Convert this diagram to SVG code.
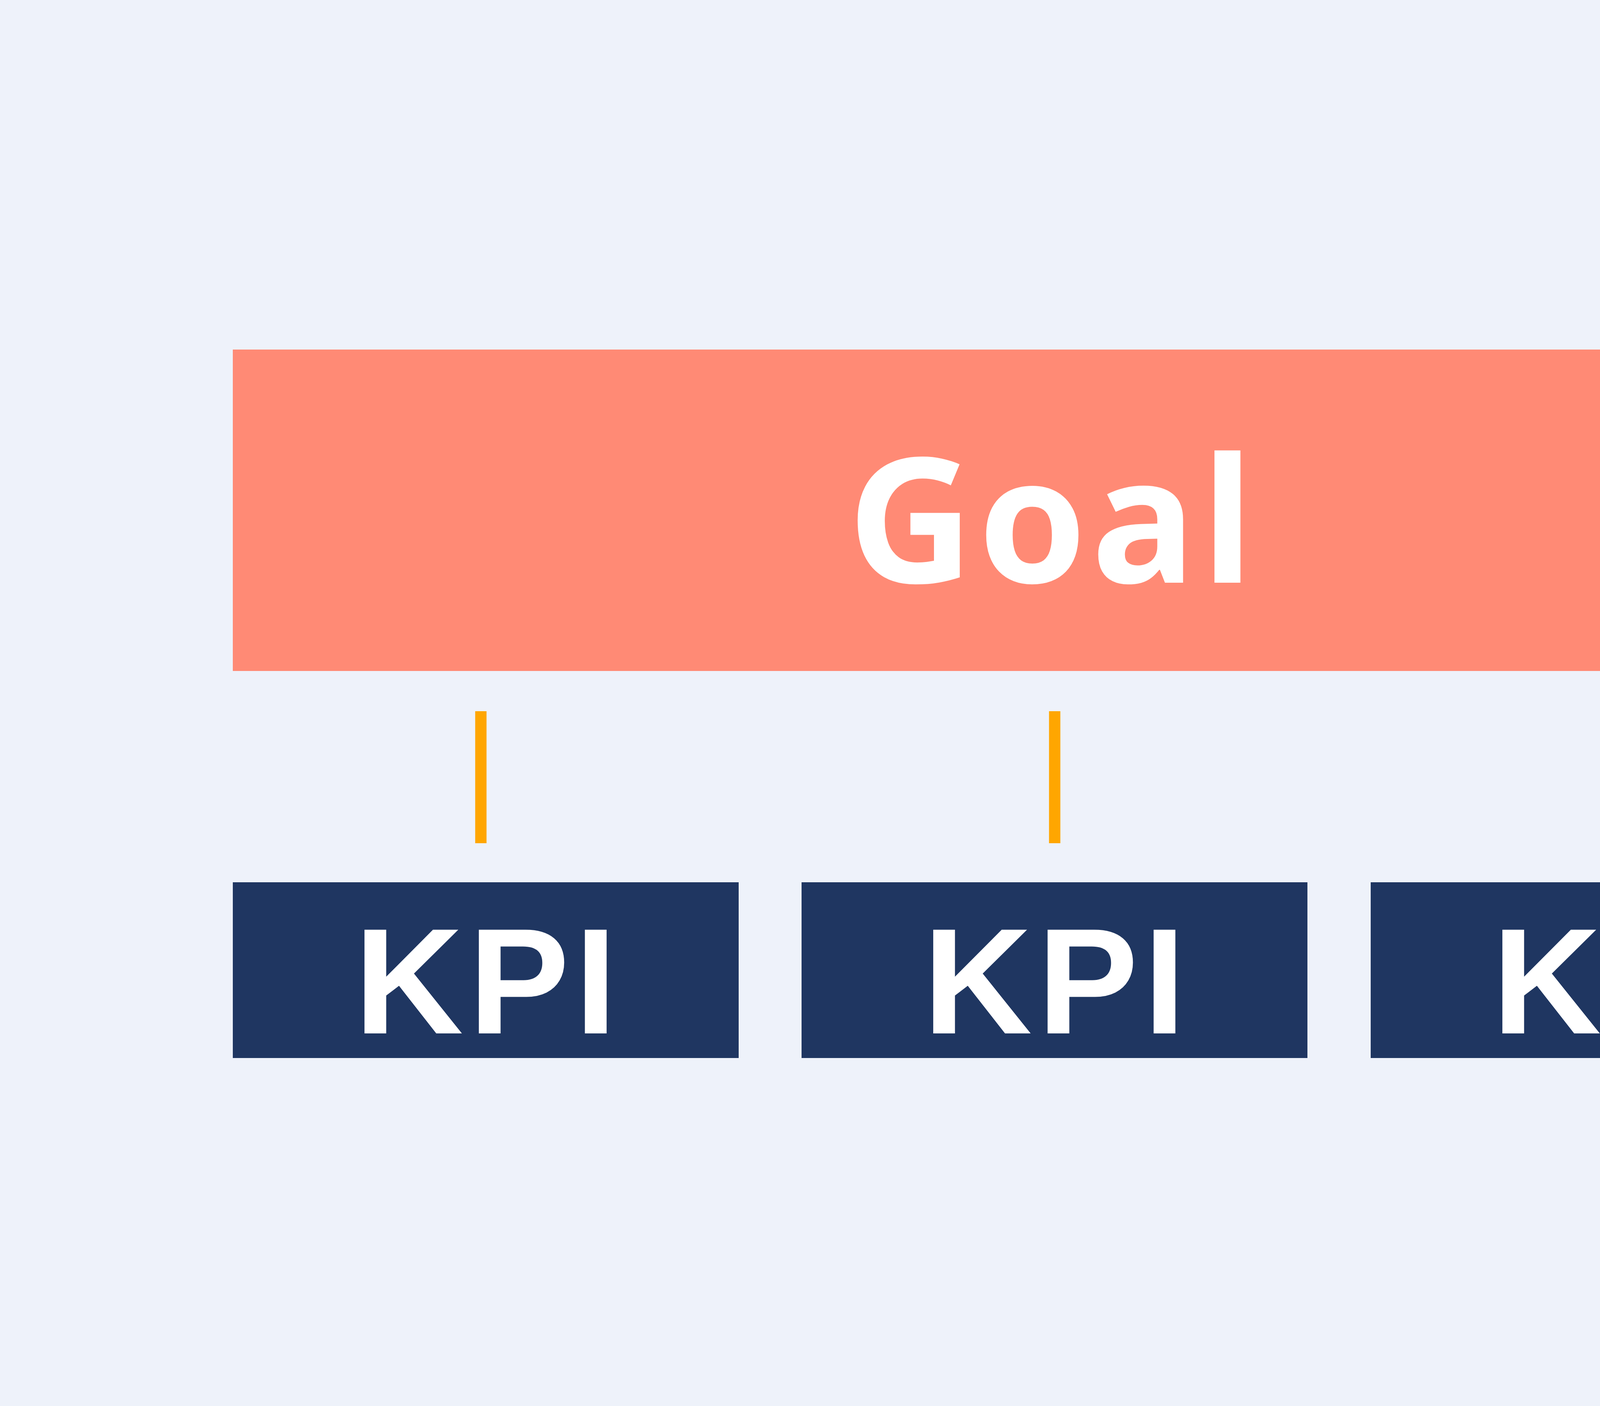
<svg xmlns="http://www.w3.org/2000/svg" width="5400" height="3600" viewBox="0 0 5400 3600">
  <style>
    .goal { fill: #FF8A75; }
    .kpi { fill: #1F3661; }
    .conn { stroke: #FFA600; stroke-width: 29; fill: none; }
    .goal-text { font-family: "Open Sans", "Liberation Sans", sans-serif; font-weight: 700; font-size: 446px; letter-spacing: 12px; fill: #FFFFFF; text-anchor: middle; }
    .kpi-text { font-family: "Liberation Sans", Arial, sans-serif; font-weight: 700; font-size: 386px; letter-spacing: 14px; fill: #FFFFFF; text-anchor: middle; }
  </style>
  <rect x="0" y="0" width="5400" height="3600" fill="#EEF2FA"/>
  <g id="goal">
    <rect class="goal" x="596" y="895" width="4210" height="823"/>
    <text class="goal-text" x="2696" y="1492">Goal</text>
  </g>
  <g id="connectors">
    <line class="conn" x1="1231" y1="1821" x2="1231" y2="2159"/>
    <line class="conn" x1="2700" y1="1821" x2="2700" y2="2159"/>
    <line class="conn" x1="4171" y1="1821" x2="4171" y2="2159"/>
  </g>
  <g id="kpi1">
    <rect class="kpi" x="596" y="2259" width="1295" height="450"/>
    <text class="kpi-text" x="1250" y="2646">KPI</text>
  </g>
  <g id="kpi2">
    <rect class="kpi" x="2052" y="2259" width="1295" height="450"/>
    <text class="kpi-text" x="2706" y="2646">KPI</text>
  </g>
  <g id="kpi3">
    <rect class="kpi" x="3509" y="2259" width="1295" height="450"/>
    <text class="kpi-text" x="4163" y="2646">KPI</text>
  </g>
</svg>
